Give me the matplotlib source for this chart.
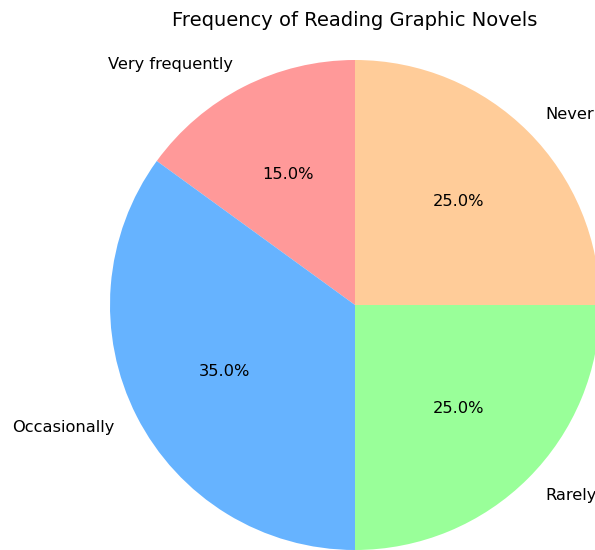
import matplotlib
matplotlib.use("Agg")
import matplotlib.pyplot as plt

categories = ["Very frequently", "Occasionally", "Rarely", "Never"]
shares = [15, 35, 25, 25]
colors = ["#ff9999", "#66b3ff", "#99ff99", "#ffcc99"]

W, H = 595, 550
fig = plt.figure(figsize=(W / 100, H / 100), dpi=100)
ax = fig.add_axes([0, 0, 1, 1])

ax.pie(shares, labels=categories, colors=colors, autopct="%1.1f%%",
       startangle=90, textprops={"fontsize": 11.7})

# pie centre and radius in pixels
cx, cy, r = 355, 305, 245
ax.set_xlim(-cx / r, (W - cx) / r)
ax.set_ylim(-(H - cy) / r, cy / r)
ax.set_aspect("equal")
ax.axis("off")

fig.text(cx / W, 1 - 20 / H, "Frequency of Reading Graphic Novels",
         ha="center", va="center", fontsize=14)

fig.savefig("out.png", dpi=100)
